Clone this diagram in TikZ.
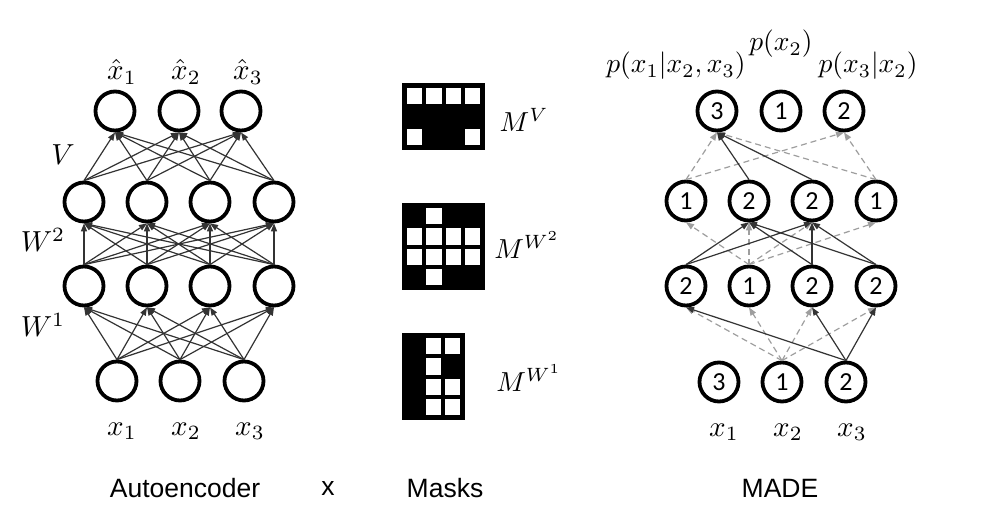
\documentclass[tikz,border=0pt]{standalone}
\usepackage{graphicx}
\usepackage{fontspec}
\setmainfont{Liberation Sans}
\newfontfamily\numfont{Carlito}
\newcommand\mymath[1]{\scalebox{2.9}{$#1$}}
\newcommand\myprob[1]{\scalebox{2.75}{$#1$}}
\usetikzlibrary{arrows.meta}
\begin{document}
\begin{tikzpicture}[x=1pt,y=-1pt,
  neuron/.style={circle,draw=black,line width=3.8pt,minimum size=39pt,inner sep=0pt,font=\numfont\fontsize{26}{28}\selectfont},
  conn/.style={line width=1.2pt,draw=black!80,-{Triangle[length=8pt,width=6pt]}},
  dconn/.style={line width=1.2pt,draw=black!38,dash pattern=on 6pt off 4pt,-{Triangle[length=8pt,width=6pt]}},
  mlab/.style={inner sep=0pt},
  tlab/.style={font=\fontsize{26.5}{30}\selectfont,inner sep=0pt},
  maskcell/.style={fill=white,draw=none}
]
\useasboundingbox (0,0) rectangle (994,520);

% ---------------- Autoencoder ----------------
\node[neuron] (ao1) at (115,111) {};
\node[neuron] (ao2) at (179,111) {};
\node[neuron] (ao3) at (241,111) {};
\foreach \i/\x in {1/84,2/147,3/210,4/274}{
  \node[neuron] (ab\i) at (\x,202) {};
  \node[neuron] (aa\i) at (\x,286) {};
}
\node[neuron] (ai1) at (117,381) {};
\node[neuron] (ai2) at (180,381) {};
\node[neuron] (ai3) at (244,381) {};

\foreach \s in {1,2,3}{\foreach \t in {1,2,3,4}{\draw[conn] (ai\s.north) -- (aa\t.south);}}
\foreach \s in {1,2,3,4}{\foreach \t in {1,2,3,4}{\draw[conn] (aa\s.north) -- (ab\t.south);}}
\foreach \s in {1,2,3,4}{\foreach \t in {1,2,3}{\draw[conn] (ab\s.north) -- (ao\t.south);}}

\node[mlab] (lxh1) at (122,72) {\mymath{\hat{x}_1}};
\node[mlab] (lxh2) at (186,72) {\mymath{\hat{x}_2}};
\node[mlab] (lxh3) at (248,72) {\mymath{\hat{x}_3}};
\node[mlab] (lx1) at (122,431) {\mymath{x_1}};
\node[mlab] (lx2) at (186,431) {\mymath{x_2}};
\node[mlab] (lx3) at (250,431) {\mymath{x_3}};
\node[mlab] (lV) at (63,155) {\mymath{V}};
\node[mlab] (lW2) at (43,240) {\mymath{W^2}};
\node[mlab] (lW1) at (43,325) {\mymath{W^1}};

% ---------------- Masks ----------------
% M^V : 3 rows x 4 cols
\fill[black] (402,83) rectangle (485,150);
\foreach \c/\r in {1/1,2/1,3/1,4/1,1/3,4/3}{
  \fill[maskcell] ({405+(\c-1)*19.25+2},{86+(\r-1)*20.3+2}) rectangle ++(15.25,16.3);
}
% M^W2 : 4 rows x 4 cols
\fill[black] (402,203) rectangle (485,290);
\foreach \c/\r in {2/1,1/2,2/2,3/2,4/2,1/3,2/3,3/3,4/3,2/4}{
  \fill[maskcell] ({405+(\c-1)*19.25+2},{206+(\r-1)*20.25+2}) rectangle ++(15.25,16.25);
}
% M^W1 : 4 rows x 3 cols
\fill[black] (402,333) rectangle (465,420);
\foreach \c/\r in {2/1,3/1,2/2,2/3,3/3,2/4,3/4}{
  \fill[maskcell] ({405+(\c-1)*19+2},{336+(\r-1)*20.25+2}) rectangle ++(15,16.25);
}
\node[mlab] (lMV) at (524,120) {\myprob{M^{V}}};
\node[mlab] (lMW2) at (527,245) {\myprob{M^{W^2}}};
\node[mlab] (lMW1) at (529,378) {\myprob{M^{W^1}}};

% ---------------- MADE ----------------
\node[neuron] (mo1) at (717,111) {3};
\node[neuron] (mo2) at (781,111) {1};
\node[neuron] (mo3) at (844,111) {2};
\node[neuron] (mb1) at (686,201) {1};
\node[neuron] (mb2) at (749,201) {2};
\node[neuron] (mb3) at (812,201) {2};
\node[neuron] (mb4) at (876,201) {1};
\node[neuron] (ma1) at (686,286) {2};
\node[neuron] (ma2) at (749,286) {1};
\node[neuron] (ma3) at (812,286) {2};
\node[neuron] (ma4) at (876,286) {2};
\node[neuron] (mi1) at (719,382) {3};
\node[neuron] (mi2) at (782,382) {1};
\node[neuron] (mi3) at (846,382) {2};

% input -> hidden1
\foreach \t in {1,2,3,4}{\draw[dconn] (mi2.north) -- (ma\t.south);}
\foreach \t in {1,3,4}{\draw[conn] (mi3.north) -- (ma\t.south);}
% hidden1 -> hidden2
\foreach \t in {1,2,3,4}{\draw[dconn] (ma2.north) -- (mb\t.south);}
\foreach \s in {1,3,4}{\foreach \t in {2,3}{\draw[conn] (ma\s.north) -- (mb\t.south);}}
% hidden2 -> output
\foreach \s in {1,4}{\draw[dconn] (mb\s.north) -- (mo1.south); \draw[dconn] (mb\s.north) -- (mo3.south);}
\foreach \s in {2,3}{\draw[conn] (mb\s.north) -- (mo1.south);}

\node[mlab] (lp2) at (781,44) {\myprob{p(x_2)}};
\node[mlab] (lp1) at (676,66) {\myprob{p(x_1|x_2,x_3)}};
\node[mlab] (lp3) at (868,66) {\myprob{p(x_3|x_2)}};
\node[mlab] (mx1) at (724,432) {\mymath{x_1}};
\node[mlab] (mx2) at (788,432) {\mymath{x_2}};
\node[mlab] (mx3) at (852,432) {\mymath{x_3}};

% ---------------- Captions ----------------
\node[tlab] (cA) at (185,488) {Autoencoder};
\node[tlab] (cx) at (328,488) {x};
\node[tlab] (cM) at (445,488) {Masks};
\node[tlab] (cD) at (780,488) {MADE};
\end{tikzpicture}
\end{document}
